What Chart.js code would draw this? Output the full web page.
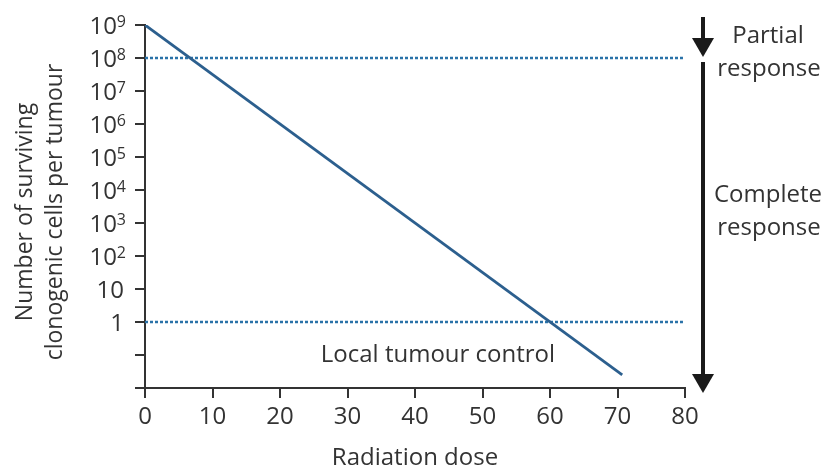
<!DOCTYPE html>
<html>
<head>
<meta charset="utf-8">
<script src="https://cdn.jsdelivr.net/npm/chart.js@4/dist/chart.umd.min.js"></script>
<style>
  html, body { margin: 0; padding: 0; background: #fff; }
  #wrap { width: 830px; height: 468px; }
</style>
</head>
<body>
<div id="wrap"><canvas id="doseChart" width="830" height="468"></canvas></div>
<script>
// Survival curve: dose (Gy) vs surviving clonogens (log scale)
const doses = [0, 70.7];
const survivors = [1e9, 0.025];
// dotted thresholds
const partialLevel = 1e8;
const controlLevel = 1;
const xTicks = [0, 10, 20, 30, 40, 50, 60, 70, 80];
const yTickValues = [1e-2, 1e-1, 1, 10, 1e2, 1e3, 1e4, 1e5, 1e6, 1e7, 1e8, 1e9];
// base + exponent, drawn as real superscripts
const yTickBase = ['', '', '1', '10', '10', '10', '10', '10', '10', '10', '10', '10'];
const yTickExp = ['', '', '', '', '2', '3', '4', '5', '6', '7', '8', '9'];
const yTitle = ['Number of surviving', 'clonogenic cells per tumour'];

const FONT = '"Open Sans", "Noto Sans", sans-serif';
const TXT = '#333';

const sidePlugin = {
    id: 'sideNotes',
    afterDraw(chart) {
        const ctx = chart.ctx;
        const xs = chart.scales.x;
        const ys = chart.scales.y;
        ctx.save();

        // y tick labels with superscripts
        ctx.fillStyle = TXT;
        ctx.textBaseline = 'alphabetic';
        ctx.textAlign = 'right';
        yTickValues.forEach((v, i) => {
            const y = ys.getPixelForValue(v);
            if (!yTickBase[i]) return;
            if (yTickExp[i]) {
                ctx.font = '16px ' + FONT;
                const ew = ctx.measureText(yTickExp[i]).width;
                ctx.fillText(yTickExp[i], 126, y + 2);
                ctx.font = '24px ' + FONT;
                ctx.fillText(yTickBase[i], 126 - ew, y + 9);
            } else {
                ctx.font = '24px ' + FONT;
                ctx.fillText(yTickBase[i], 124, y + 9);
            }
        });

        // y axis title, two rotated lines
        ctx.save();
        ctx.translate(0, 212);
        ctx.rotate(-Math.PI / 2);
        ctx.textAlign = 'center';
        ctx.textBaseline = 'middle';
        ctx.font = '23px ' + FONT;
        ctx.fillText(yTitle[0], 0, 25);
        ctx.fillText(yTitle[1], 0, 55);
        ctx.restore();

        ctx.textAlign = 'center';
        ctx.textBaseline = 'middle';
        ctx.font = '24px ' + FONT;
        ctx.fillText('Local tumour control', xs.getPixelForValue(43.4), ys.getPixelForValue(0.1));

        // arrows on the right
        const ax = 703;
        ctx.strokeStyle = '#1a1a1a';
        ctx.fillStyle = '#1a1a1a';
        ctx.lineWidth = 4;
        function arrow(y0, y1) {
            ctx.beginPath();
            ctx.moveTo(ax, y0);
            ctx.lineTo(ax, y1 - 12);
            ctx.stroke();
            ctx.beginPath();
            ctx.moveTo(ax - 11, y1 - 19);
            ctx.lineTo(ax + 11, y1 - 19);
            ctx.lineTo(ax, y1);
            ctx.closePath();
            ctx.fill();
        }
        arrow(17, 57);
        arrow(62, 393);

        ctx.fillStyle = TXT;
        ctx.font = '24px ' + FONT;
        ctx.fillText('Partial', 768, 36);
        ctx.fillText('response', 769, 69);
        ctx.fillText('Complete', 768, 195);
        ctx.fillText('response', 769, 228);
        ctx.restore();
    }
};

new Chart(document.getElementById('doseChart'), {
    type: 'line',
    data: {
        datasets: [
            {
                data: doses.map((d, i) => ({ x: d, y: survivors[i] })),
                borderColor: '#2c5f8e',
                borderWidth: 2.8,
                pointRadius: 0,
                fill: false
            },
            {
                data: [{ x: 0, y: partialLevel }, { x: 79.7, y: partialLevel }],
                borderColor: '#2a72a8',
                borderWidth: 2.5,
                borderDash: [3, 2],
                pointRadius: 0,
                fill: false
            },
            {
                data: [{ x: 0, y: controlLevel }, { x: 79.7, y: controlLevel }],
                borderColor: '#2a72a8',
                borderWidth: 2.5,
                borderDash: [3, 2],
                pointRadius: 0,
                fill: false
            }
        ]
    },
    options: {
        responsive: false,
        animation: false,
        layout: { padding: { left: 0, right: 145, top: 25, bottom: 0 } },
        plugins: { legend: { display: false }, tooltip: { enabled: false } },
        scales: {
            x: {
                type: 'linear',
                min: 0,
                max: 80,
                afterBuildTicks: (s) => { s.ticks = xTicks.map(v => ({ value: v })); },
                afterFit: (s) => { s.height = 80; },
                ticks: { color: TXT, font: { family: FONT, size: 24 }, padding: 5 },
                grid: { drawOnChartArea: false, tickLength: 10, color: '#333', lineWidth: 2 },
                border: { color: '#333', width: 2 },
                title: {
                    display: true,
                    text: 'Radiation dose',
                    color: TXT,
                    font: { family: FONT, size: 24, lineHeight: 1.0 },
                    padding: { top: 0, bottom: -2 }
                }
            },
            y: {
                type: 'logarithmic',
                min: 1e-2,
                max: 1e9,
                afterBuildTicks: (s) => { s.ticks = yTickValues.map(v => ({ value: v })); },
                afterFit: (s) => { s.width = 145; },
                ticks: { callback: () => '' },
                grid: { drawOnChartArea: false, tickLength: 10, color: '#333', lineWidth: 2 },
                border: { color: '#333', width: 2 }
            }
        }
    },
    plugins: [sidePlugin]
});
</script>
</body>
</html>
